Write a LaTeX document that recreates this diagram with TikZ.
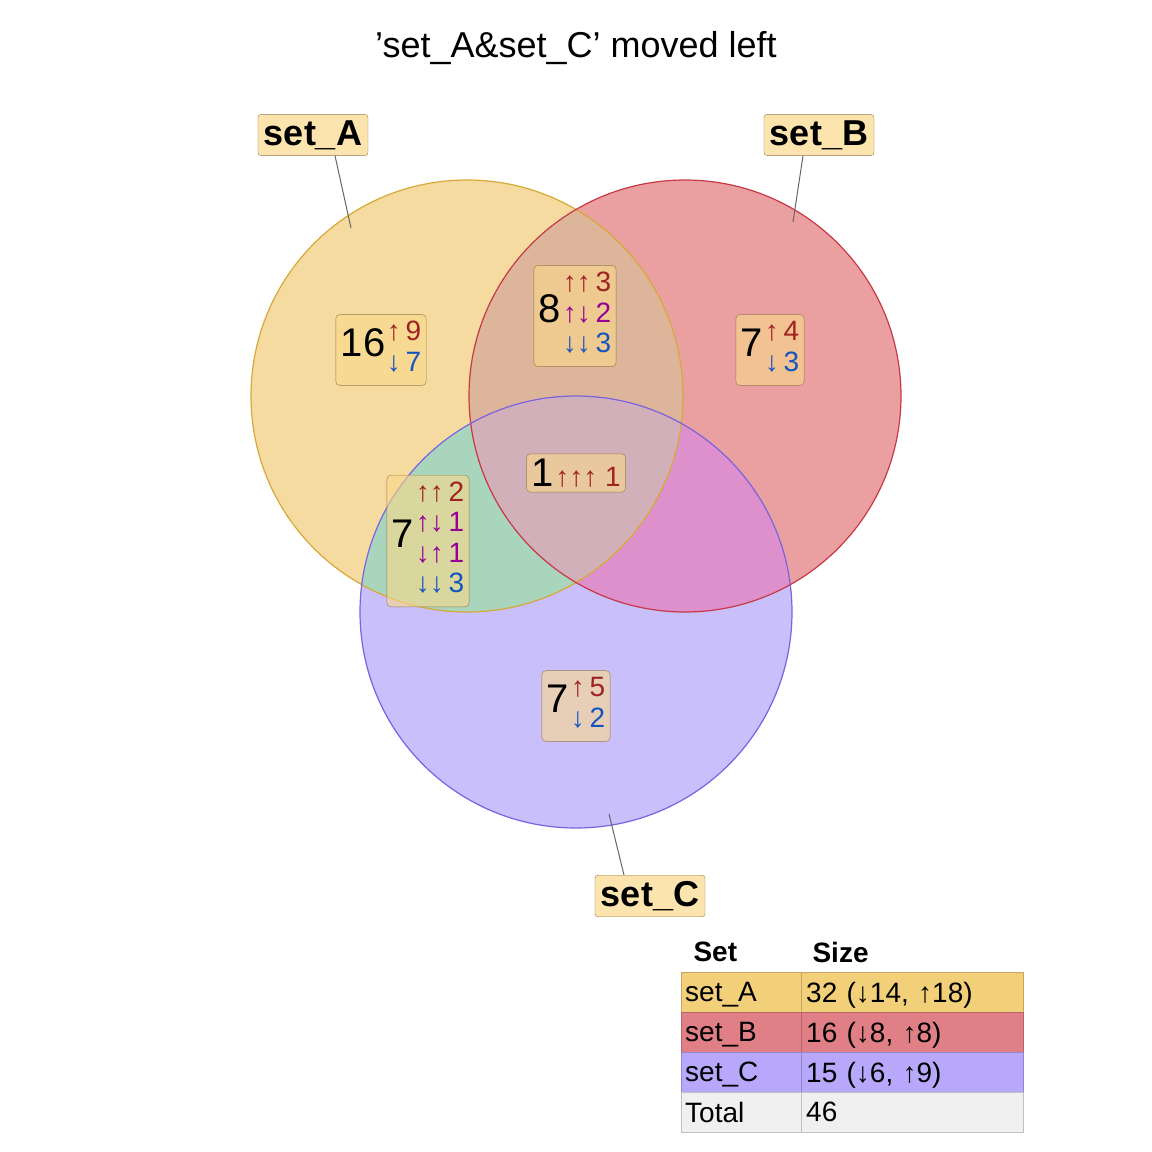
\documentclass[tikz,border=0pt]{standalone}
\usepackage{fontspec}
\setmainfont{Liberation Sans}
\usepackage{array}
\definecolor{cA}{HTML}{F5DBA0}\definecolor{cB}{HTML}{EAA0A1}\definecolor{cC}{HTML}{C8BFFB}
\definecolor{cAB}{HTML}{DDB59B}\definecolor{cAC}{HTML}{A9D5BC}\definecolor{cBC}{HTML}{DD90CB}\definecolor{cABC}{HTML}{D1B0BA}
\definecolor{sA}{HTML}{D8A838}\definecolor{sB}{HTML}{C83845}\definecolor{sC}{HTML}{7A62E0}
\definecolor{up}{HTML}{A02222}\definecolor{dn}{HTML}{1454C0}\definecolor{mx}{HTML}{960096}
\definecolor{boxf}{HTML}{FAD98A}\definecolor{boxd}{HTML}{9A7A50}
\definecolor{tA}{HTML}{F2D07A}\definecolor{tB}{HTML}{E07F86}\definecolor{tC}{HTML}{B8A8FC}\definecolor{tT}{HTML}{F0F0F0}
\newcommand{\Uar}{\textcolor{up}{↑}}\newcommand{\Dar}{\textcolor{dn}{↓}}
\newcommand{\mUar}{\textcolor{mx}{↑}}\newcommand{\mDar}{\textcolor{mx}{↓}}
\newcommand{\bignum}[1]{{\fontsize{40}{40}\selectfont #1}}
\newenvironment{arr}{\fontsize{28}{32}\selectfont\renewcommand{\arraystretch}{0.95}\begin{tabular}{@{}r@{\,}l@{}}}{\end{tabular}}
\begin{document}
\begin{tikzpicture}[x=1pt,y=-1pt,
 cnt/.style={draw=boxd,fill=boxf,fill opacity=0.6,text opacity=1,rounded corners=4pt,inner sep=5pt},
 setlab/.style={draw=boxd,fill=boxf,fill opacity=0.7,text opacity=1,rounded corners=3pt,font=\fontsize{36}{36}\selectfont\bfseries,inner sep=6pt},
 lead/.style={draw=black!60,line width=1pt},
 cell/.style={draw=#1!80!black,minimum height=40pt,anchor=north west,inner sep=0pt,font=\fontsize{28}{28}\selectfont,text depth=0pt}]
\useasboundingbox (0,0) rectangle (1152,1152);
\coordinate (oA) at (467,396);\coordinate (oB) at (685,396);\coordinate (oC) at (576,612);
\fill[cA] (oA) circle (216);\fill[cB] (oB) circle (216);\fill[cC] (oC) circle (216);
\begin{scope}\clip (oA) circle (216);\fill[cAB] (oB) circle (216);\fill[cAC] (oC) circle (216);\end{scope}
\begin{scope}\clip (oB) circle (216);\fill[cBC] (oC) circle (216);\end{scope}
\begin{scope}\clip (oA) circle (216);\clip (oB) circle (216);\fill[cABC] (oC) circle (216);\end{scope}
\draw[sA,line width=1.2pt] (oA) circle (216);
\draw[sB,line width=1.2pt] (oB) circle (216);
\draw[sC,line width=1.2pt] (oC) circle (216);
\node[font=\fontsize{36}{36}\selectfont] (title) at (576,48) {'set\_A\&set\_C' moved left};
\node[cnt] (nA) at (381,350) {\bignum{16}\,\begin{arr}\Uar&\textcolor{up}{9}\\\Dar&\textcolor{dn}{7}\end{arr}};
\node[cnt] (nAB) at (575,316) {\bignum{8}\,\begin{arr}\Uar\Uar&\textcolor{up}{3}\\\mUar\mDar&\textcolor{mx}{2}\\\Dar\Dar&\textcolor{dn}{3}\end{arr}};
\node[cnt] (nB) at (770,350) {\bignum{7}\,\begin{arr}\Uar&\textcolor{up}{4}\\\Dar&\textcolor{dn}{3}\end{arr}};
\node[cnt] (nABC) at (576,473) {\bignum{1}\,{\fontsize{28}{28}\selectfont\Uar\Uar\Uar\ \textcolor{up}{1}}};
\node[cnt] (nAC) at (428,541) {\bignum{7}\,\begin{arr}\Uar\Uar&\textcolor{up}{2}\\\mUar\mDar&\textcolor{mx}{1}\\\mDar\mUar&\textcolor{mx}{1}\\\Dar\Dar&\textcolor{dn}{3}\end{arr}};
\node[cnt] (nC) at (576,706) {\bignum{7}\,\begin{arr}\Uar&\textcolor{up}{5}\\\Dar&\textcolor{dn}{2}\end{arr}};
\node[setlab] (lA) at (313,135) {set\_A};
\node[setlab] (lB) at (819,135) {set\_B};
\node[setlab] (lC) at (650,896) {set\_C};
\coordinate (pA) at (351,228);\coordinate (pB) at (793,222);\coordinate (pC) at (609,814);
\coordinate (qA) at ([xshift=22pt]lA.south);
\coordinate (qB) at ([xshift=-16pt]lB.south);
\coordinate (qC) at ([xshift=-26pt]lC.north);
\draw[lead] (qA) -- (pA);
\draw[lead] (qB) -- (pB);
\draw[lead] (qC) -- (pC);
\node[font=\fontsize{28}{28}\selectfont\bfseries,anchor=west] (h1) at (690,952) {Set};
\node[font=\fontsize{28}{28}\selectfont\bfseries,anchor=west] (h2) at (809,952) {Size};
\foreach \c/\n/\s [count=\i from 0] in {tA/set\_A/32 (↓14{,} ↑18),tB/set\_B/16 (↓8{,} ↑8),tC/set\_C/15 (↓6{,} ↑9),tT/Total/46}{
  \node[cell=\c,fill=\c,minimum width=120pt,text width=112pt,align=left] (r\i a) at (681,972+40*\i) {\n};
  \node[cell=\c,fill=\c,minimum width=222pt,text width=212pt,align=left] (r\i b) at (801,972+40*\i) {\s};
}
\end{tikzpicture}
\end{document}
